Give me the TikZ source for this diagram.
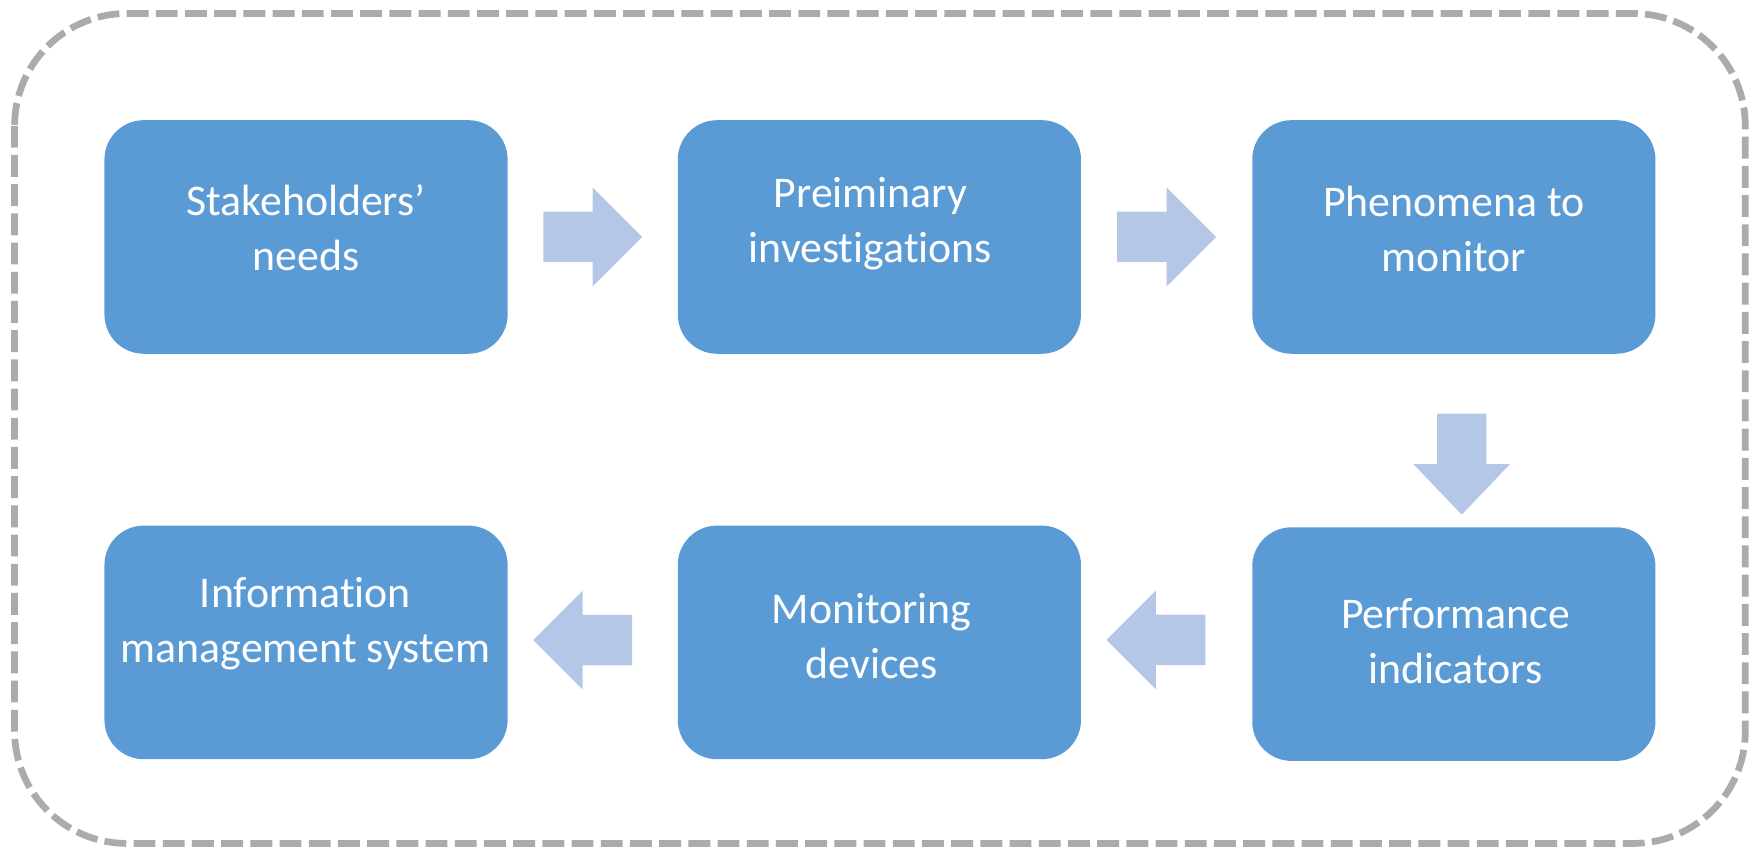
\documentclass[tikz,border=0pt]{standalone}
\usepackage{fontspec}
\setmainfont[Ligatures=NoCommon]{Carlito}
\usetikzlibrary{calc}
\definecolor{boxblue}{HTML}{5B9BD5}
\definecolor{arrowblue}{HTML}{B4C7E7}
\definecolor{frame}{HTML}{AEAAAA}
\tikzset{
  stagebox/.style={rectangle, rounded corners=35pt, fill=boxblue, draw=none,
    minimum width=359pt, minimum height=208pt, inner sep=0pt},
  stagetext/.style={text=white, align=center, font=\fontsize{39}{49}\selectfont, inner sep=0pt},
  arrowfill/.style={fill=arrowblue},
}
% block arrows, drawn around a centre point (y axis points down)
\newcommand{\rightblock}[1]{\fill[arrowfill, shift={(#1)}]
  (-44,-22.5) -- (0,-22.5) -- (0,-44) -- (44,0) -- (0,44) -- (0,22.5) -- (-44,22.5) -- cycle;}
\newcommand{\leftblock}[1]{\fill[arrowfill, shift={(#1)}]
  (44,-22.5) -- (0,-22.5) -- (0,-44) -- (-44,0) -- (0,44) -- (0,22.5) -- (44,22.5) -- cycle;}
\newcommand{\downblock}[1]{\fill[arrowfill, shift={(#1)}]
  (-22,-45) -- (22,-45) -- (22,0) -- (43,0) -- (0,45) -- (-43,0) -- (-22,0) -- cycle;}
\begin{document}
\begin{tikzpicture}[x=1pt, y=-1pt]
\useasboundingbox (0,0) rectangle (1568,760);
% dashed outer frame
\draw[frame, line width=6pt, dash pattern=on 19.5pt off 6.5pt, rounded corners=100pt]
  (13,12) rectangle (1554,751);

% stages
\node[stagebox] (s1) at (272.5,211) {};
\node[stagebox] (s2) at (783,211) {};
\node[stagebox] (s3) at (1294.5,211) {};
\node[stagebox] (s6) at (1294.5,573.5) {};
\node[stagebox] (s5) at (783,572) {};
\node[stagebox] (s4) at (272.5,572) {};

\node[stagetext] (t1) at (272.5,203) {Stakeholders’\\needs};
\node[stagetext] (t2) at (775,199) {Preiminary\\investigations};
\node[stagetext] (t3) at (1294.5,204) {Phenomena to\\monitor};
\node[stagetext] (t6) at (1296,571) {Performance\\indicators};
\node[stagetext] (t5) at (776,566) {Monitoring\\devices};
\node[stagetext] (t4) at (272,555) {Information\\management system};

% connecting block arrows
\coordinate (a12) at ($(s1.east)!0.5!(s2.west)$);
\coordinate (a23) at ($(s2.east)!0.5!(s3.west)$);
\coordinate (a36) at ($(s3.south)!0.5!(s6.north)+(7,21)$);
\coordinate (a65) at ($(s6.west)!0.5!(s5.east)+(-9.5,-3)$);
\coordinate (a54) at ($(s5.west)!0.5!(s4.east)+(-9,-2)$);
\rightblock{a12}
\rightblock{a23}
\downblock{a36}
\leftblock{a65}
\leftblock{a54}
\end{tikzpicture}
\end{document}
